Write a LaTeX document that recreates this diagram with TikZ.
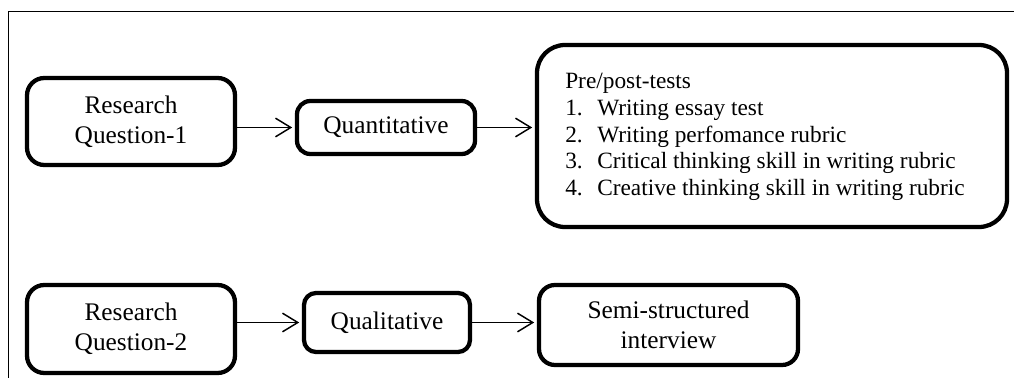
\documentclass[tikz,border=0pt]{standalone}
\usepackage{fontspec}
\setmainfont{Liberation Serif}
\usetikzlibrary{arrows.meta}
\begin{document}
\begin{tikzpicture}[x=0.75pt,y=-0.75pt,
  box/.style={draw,line width=3.2pt,inner sep=0pt,align=center,
    font=\fontsize{19}{22.5}\selectfont},
  listtext/.style={inner sep=0pt,align=left,font=\fontsize{17.5}{20}\selectfont},
  flow/.style={line width=1.1pt,-{Straight Barb[length=11.5pt,width=14pt,line width=1.1pt]},shorten >=2pt}]
\useasboundingbox (0,0) rectangle (1014,378);

% outer frame
\draw[line width=0.75pt] (8,378) -- (8,12) -- (1014,12);

% first research question
\node[box,rounded corners=13pt,minimum width=156pt,minimum height=65.25pt] (rq1) at (131,121.5) {Research\\Question-1};
\node[box,rounded corners=10pt,minimum width=133.5pt,minimum height=39.75pt] (quant) at (386,127.5) {Quantitative};
\node[box,rounded corners=21pt,minimum width=352.5pt,minimum height=136.5pt] (tests) at (772,136) {};
\node[listtext,anchor=west] (testlist) at (565,137) {Pre/post-tests\\
\makebox[24pt][l]{1.}Writing essay test\\
\makebox[24pt][l]{2.}Writing perfomance rubric\\
\makebox[24pt][l]{3.}Critical thinking skill in writing rubric\\
\makebox[24pt][l]{4.}Creative thinking skill in writing rubric};

% second research question
\node[box,rounded corners=13pt,minimum width=156pt,minimum height=66pt] (rq2) at (131,329) {Research\\Question-2};
\node[box,rounded corners=9pt,minimum width=124.5pt,minimum height=44.25pt] (qual) at (387,322.5) {Qualitative};
\node[box,rounded corners=12pt,minimum width=194.25pt,minimum height=60pt] (semi) at (668.5,325) {Semi-structured\\interview};

% connectors
\draw[flow] (quant.west -| rq1.east) -- (quant.west);
\draw[flow] (quant.east) -- (quant.east -| tests.west);
\draw[flow] (qual.west -| rq2.east) -- (qual.west);
\draw[flow] (qual.east) -- (qual.east -| semi.west);
\end{tikzpicture}
\end{document}
